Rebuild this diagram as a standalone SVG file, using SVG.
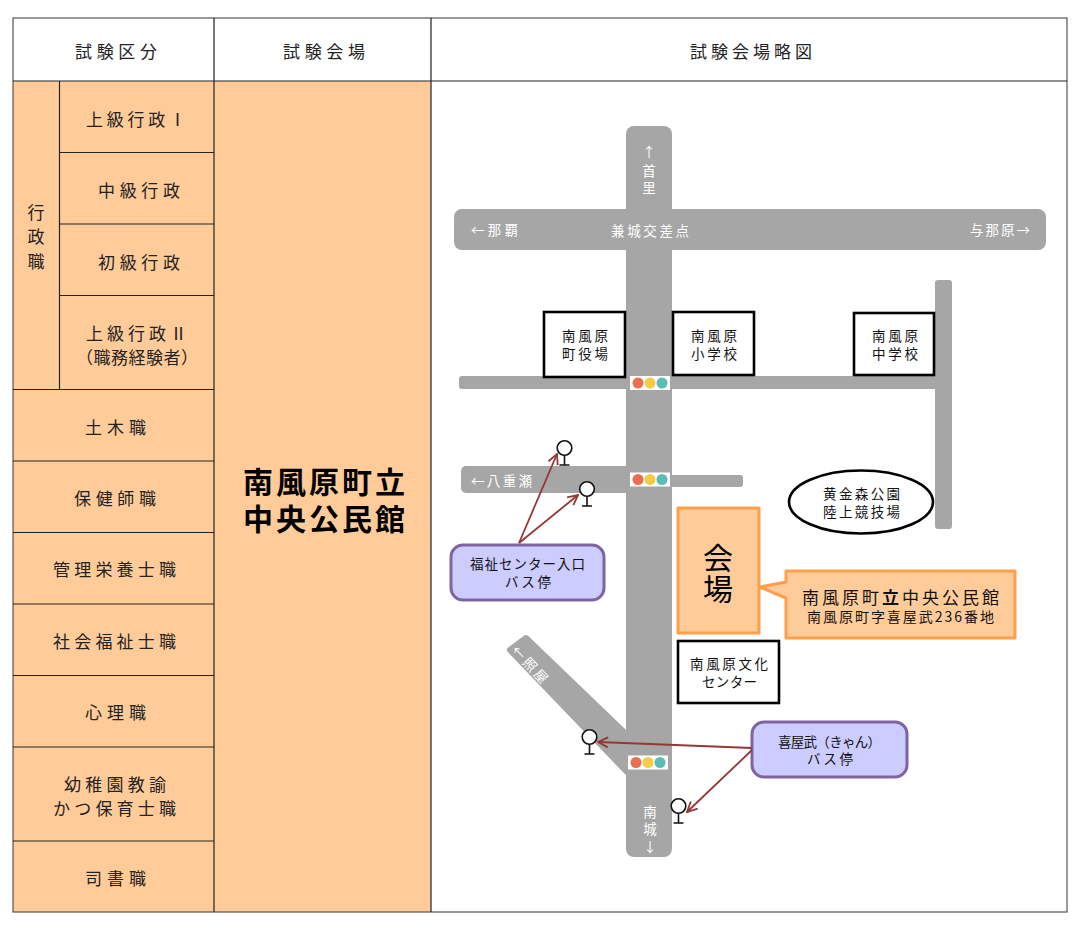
<svg xmlns="http://www.w3.org/2000/svg" width="1080" height="931" viewBox="0 0 1080 931">
<defs>
<style>
text{font-family:"Noto Sans CJK JP","Noto Sans CJK SC",sans-serif;fill:#222;dominant-baseline:central}
.c{text-anchor:middle}
.t{font-size:17px}
.m{font-size:13.5px;fill:#111}
.w{font-size:13.5px;fill:#fff}
.b{font-size:30px;font-weight:700;fill:#000}
.cell{fill:#FFCC99}
.ln{stroke:#222;stroke-width:1.2;fill:none}
.road{fill:#A6A6A6}
.bld{fill:#fff;stroke:#000;stroke-width:2.6}
.or{fill:#FFCC99;stroke:#FF9F4A;stroke-width:3;stroke-linejoin:round}
.bub{fill:#CCCCFF;stroke:#8064A2;stroke-width:3}
.stop{fill:#fff;stroke:#111;stroke-width:1.6}
.arr{stroke:#953735;stroke-width:1.8;fill:none;marker-end:url(#ah)}
</style>
<marker id="ah" viewBox="0 0 12 12" refX="11" refY="6" markerWidth="12" markerHeight="12" markerUnits="userSpaceOnUse" orient="auto"><path d="M1 1L11 6L1 11" fill="none" stroke="#953735" stroke-width="1.8"/></marker>
<g id="sig"><rect x="-20" y="-7" width="40" height="14" fill="#fff"/><circle cx="-12" r="5.5" fill="#E96F50"/><circle cx="0" r="5.5" fill="#F6CB45"/><circle cx="12" r="5.5" fill="#5BBDB5"/></g>
<g id="bs"><circle r="7.3" class="stop"/><path d="M0 7.3V17M-5 17H5" class="stop" fill="none"/></g>
</defs>
<rect width="1080" height="931" fill="#fff"/>
<g id="table">
<rect x="13" y="81" width="418" height="831" class="cell"/>
<g class="ln">
<rect x="13" y="18" width="1054" height="894" stroke="#555"/>
<path d="M13 81H1067M214 18V912M431 18V912M59.5 81V389.5M59.5 152.5H214M59.5 224H214M59.5 295.5H214M13 389.5H214M13 461H214M13 532.5H214M13 604H214M13 675.5H214M13 747H214M13 841H214"/>
</g>
<text class="t" x="75" y="50" textLength="82">試験区分</text>
<text class="t" x="283" y="50" textLength="82">試験会場</text>
<text class="t" x="690" y="50" textLength="122">試験会場略図</text>
<text class="t" x="86" y="118" textLength="100">上級行政Ⅰ</text>
<text class="t" x="98" y="189" textLength="82">中級行政</text>
<text class="t" x="98" y="261" textLength="82">初級行政</text>
<text class="t" x="86" y="332" textLength="101">上級行政Ⅱ</text>
<text class="t" x="76" y="356" textLength="122">（職務経験者）</text>
<text class="t c" x="36" y="211">行</text><text class="t c" x="36" y="235">政</text><text class="t c" x="36" y="260">職</text>
<text class="t" x="85" y="426" textLength="61">土木職</text>
<text class="t" x="74" y="497" textLength="82">保健師職</text>
<text class="t" x="53" y="568" textLength="123">管理栄養士職</text>
<text class="t" x="53" y="640" textLength="123">社会福祉士職</text>
<text class="t" x="85" y="711" textLength="61">心理職</text>
<text class="t" x="64" y="783" textLength="102">幼稚園教諭</text>
<text class="t" x="53" y="807" textLength="123">かつ保育士職</text>
<text class="t" x="85" y="877" textLength="61">司書職</text>
<text class="b" x="243" y="480" textLength="162">南風原町立</text>
<text class="b" x="243" y="517" textLength="162">中央公民館</text>
</g>
<g id="roads">
<rect class="road" x="626" y="126" width="46" height="731" rx="8"/>
<rect class="road" x="454" y="209" width="592" height="41" rx="8"/>
<rect class="road" x="459" y="376" width="480" height="13" rx="3"/>
<rect class="road" x="935" y="280" width="17" height="249" rx="3"/>
<rect class="road" x="461" y="466" width="170" height="27" rx="5"/>
<rect class="road" x="668" y="475" width="75" height="12" rx="3"/>
<path class="road" stroke="#A6A6A6" stroke-width="6" stroke-linejoin="round" d="M510 650L526 638L630 738V772L627 772Z"/>
<use href="#sig" x="650" y="383"/>
<use href="#sig" x="650" y="479.500"/>
<use href="#sig" x="648" y="762.500"/>
<text class="w c" x="649" y="151">↑</text><text class="w c" x="649" y="170">首</text><text class="w c" x="649" y="187">里</text>
<text class="w" x="471" y="229" textLength="47">←那覇</text>
<text class="w" x="611" y="229.500" textLength="78">兼城交差点</text>
<text class="w" x="970" y="229" textLength="60">与那原→</text>
<text class="w" x="471" y="480" textLength="61">←八重瀬</text>
<text class="w" transform="translate(515 647) rotate(47)" textLength="46">←照屋</text>
<text class="w c" x="650" y="811">南</text><text class="w c" x="650" y="828">城</text><text class="w c" x="650" y="846">↓</text>
</g>
<g id="n-yakuba"><rect class="bld" x="544" y="312" width="81" height="65"/><text class="m" x="562" y="335" textLength="46">南風原</text><text class="m" x="562" y="353" textLength="46">町役場</text></g>
<g id="n-shogakko"><rect class="bld" x="673" y="312" width="81" height="63"/><text class="m" x="691" y="335" textLength="46">南風原</text><text class="m" x="691" y="353" textLength="46">小学校</text></g>
<g id="n-chugakko"><rect class="bld" x="854" y="313" width="80" height="62"/><text class="m" x="872" y="335" textLength="46">南風原</text><text class="m" x="872" y="353" textLength="46">中学校</text></g>
<g id="n-park"><ellipse class="bld" cx="861" cy="502" rx="72" ry="31.500"/><text class="m" x="823" y="493" textLength="77">黄金森公園</text><text class="m" x="823" y="511" textLength="77">陸上競技場</text></g>
<g id="n-bunka"><rect class="bld" x="678" y="641" width="101" height="62"/><text class="m" x="690" y="663" textLength="78">南風原文化</text><text class="m" x="702" y="681" textLength="55">センター</text></g>
<g id="n-kaijo"><rect class="or" x="678" y="508" width="81" height="125"/><text class="c" style="font-size:30px;fill:#000" x="718" y="556">会</text><text class="c" style="font-size:30px;fill:#000" x="718" y="587">場</text></g>
<g id="n-callout"><path class="or" d="M786 571H1015V638H786V598L760 587L786 582Z"/><text x="802" y="596" style="font-size:17px;fill:#111" textLength="197">南風原町<tspan font-weight="700">立</tspan>中央公民館</text><text x="807" y="616" style="font-size:14px;fill:#111" textLength="187">南風原町字喜屋武236番地</text></g>
<g id="n-stop1"><rect class="bub" x="451" y="545" width="153" height="55" rx="12"/><text class="m" x="470" y="563" textLength="115">福祉センター入口</text><text class="m" x="505" y="581" textLength="46">バス停</text></g>
<g id="n-stop2"><rect class="bub" x="752" y="722" width="155" height="55" rx="12"/><text class="m" x="778" y="741" textLength="103">喜屋武（きゃん）</text><text class="m" x="807" y="758" textLength="46">バス停</text></g>
<g id="busstops">
<use href="#bs" x="564.500" y="448"/>
<use href="#bs" x="587" y="489"/>
<use href="#bs" x="589.500" y="737"/>
<use href="#bs" x="678.500" y="806"/>
</g>
<g id="connectors">
<path class="arr" d="M519 543L557 454"/>
<path class="arr" d="M519 543L578 495"/>
<path class="arr" d="M752 748L598 742"/>
<path class="arr" d="M752 750L687 812"/>
</g>
</svg>
